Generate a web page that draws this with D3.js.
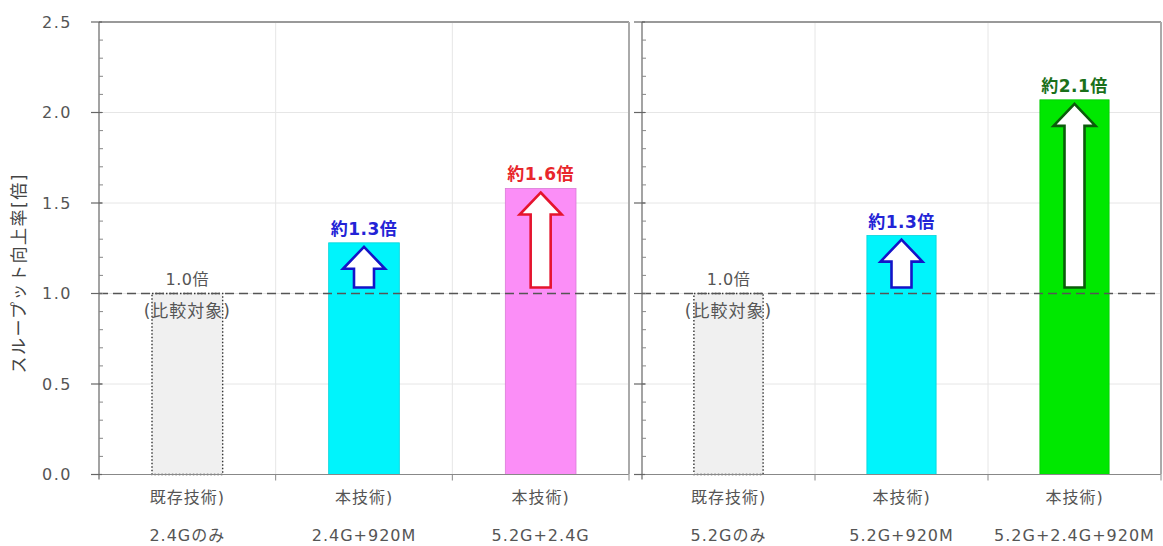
<!DOCTYPE html>
<html>
<head>
<meta charset="utf-8">
<script src="https://cdn.jsdelivr.net/npm/d3@7"></script>
<style>
  html, body { margin: 0; padding: 0; background: #fff; }
  svg { display: block; }
  text { font-family: "DejaVu Sans", "Noto Sans CJK JP", sans-serif; }
</style>
</head>
<body>
<svg id="chart" width="1163" height="546"></svg>
<script>
// Throughput gain vs. existing single-band technology
const leftTech    = ["既存技術)", "本技術)", "本技術)"];
const leftBands   = ["2.4Gのみ", "2.4G+920M", "5.2G+2.4G"];
const leftValues  = [1.0, 1.28, 1.58];

const rightTech   = ["既存技術)", "本技術)", "本技術)"];
const rightBands  = ["5.2Gのみ", "5.2G+920M", "5.2G+2.4G+920M"];
const rightValues = [1.0, 1.32, 2.07];

const yTicks      = [0, 0.5, 1.0, 1.5, 2.0, 2.5];
const yMinorTicks = d3.range(0, 25).map(i => i / 10);
const yTitle      = "スループット向上率[倍]";
const baseNote    = "(比較対象)";

const barFill     = { left: ["#f0f0f0", "#00f4fc", "#fb8ef7"], right: ["#f0f0f0", "#00f4fc", "#00e800"] };
const labelColor  = { left: ["#555", "#2323d6", "#e8262b"], right: ["#555", "#2323d6", "#1a701a"] };
const arrowColor  = { left: [null, "#1414c8", "#e5142e"], right: [null, "#1414c8", "#0b5c0b"] };

const svg = d3.select("#chart");
const plotTop = 22, plotBottom = 474.5;
const y = d3.scaleLinear().domain([0, 2.5]).range([plotBottom, plotTop]);

function panel(x0, x1, tech, bands, values, side, showLabels) {
  const g = svg.append("g");
  const x = d3.scaleBand().domain(d3.range(values.length)).range([x0, x1]).paddingInner(0).paddingOuter(0);
  const bw = x.bandwidth() * 0.4;

  // horizontal grid
  g.selectAll(".hg").data(yTicks.filter(t => t > 0 && t < 2.5)).join("line")
    .attr("x1", x0).attr("x2", x1).attr("y1", d => y(d)).attr("y2", d => y(d))
    .attr("stroke", "#e6e6e6").attr("stroke-width", 1);
  // vertical grid at band boundaries
  g.selectAll(".vg").data(d3.range(1, values.length)).join("line")
    .attr("x1", d => x(d)).attr("x2", d => x(d)).attr("y1", plotTop).attr("y2", plotBottom)
    .attr("stroke", "#e6e6e6").attr("stroke-width", 1);

  // bars
  g.selectAll(".bar").data(values).join("rect")
    .attr("x", (d, i) => x(i) + (x.bandwidth() - bw) / 2)
    .attr("width", bw)
    .attr("y", d => y(d))
    .attr("height", d => y(0) - y(d))
    .attr("fill", (d, i) => barFill[side][i])
    .attr("stroke", (d, i) => i === 0 ? "#333" : d3.color(barFill[side][i]).darker(0.4))
    .attr("stroke-width", (d, i) => i === 0 ? 1.4 : 0.8)
    .attr("stroke-dasharray", (d, i) => i === 0 ? "1.5,2" : null);

  // reference line at 1.0
  g.append("line")
    .attr("x1", x0).attr("x2", x1).attr("y1", y(1)).attr("y2", y(1))
    .attr("stroke", "#555").attr("stroke-width", 1.6).attr("stroke-dasharray", "9,5");

  // arrows showing the gain above 1.0
  const headW = 42, shaftW = 20, headH = 22;
  values.forEach((v, i) => {
    if (i === 0) return;
    const cx = x(i) + x.bandwidth() / 2;
    const tip = y(v) + 4, base = y(1) - 6;
    const p = d3.path();
    p.moveTo(cx, tip);
    p.lineTo(cx + headW / 2, tip + headH);
    p.lineTo(cx + shaftW / 2, tip + headH);
    p.lineTo(cx + shaftW / 2, base);
    p.lineTo(cx - shaftW / 2, base);
    p.lineTo(cx - shaftW / 2, tip + headH);
    p.lineTo(cx - headW / 2, tip + headH);
    p.closePath();
    g.append("path").attr("d", p.toString())
      .attr("fill", "#fff").attr("stroke", arrowColor[side][i])
      .attr("stroke-width", 2.6).attr("stroke-linejoin", "miter");
  });

  // value labels
  const fmt = d3.format(".1f");
  values.forEach((v, i) => {
    const cx = x(i) + x.bandwidth() / 2;
    if (i === 0) {
      g.append("text").attr("x", cx).attr("y", y(v) - 14).attr("dy", "0.35em")
        .attr("text-anchor", "middle").attr("fill", labelColor[side][i])
        .attr("font-size", 16).style("letter-spacing", "0.5px")
        .text(fmt(v) + "倍");
      g.append("text").attr("x", cx).attr("y", y(v) + 18).attr("dy", "0.35em")
        .attr("text-anchor", "middle").attr("fill", labelColor[side][i])
        .attr("font-size", 17).style("letter-spacing", "1px")
        .text(baseNote);
    } else {
      g.append("text").attr("x", cx).attr("y", y(v) - 14).attr("dy", "0.35em")
        .attr("text-anchor", "middle").attr("fill", labelColor[side][i])
        .attr("font-size", 17).attr("font-weight", "bold").style("letter-spacing", "0.5px")
        .text("約" + fmt(v) + "倍");
    }
  });

  // category labels (two lines)
  const cat = g.selectAll(".cat").data(values).join("g");
  cat.append("text")
    .attr("x", (d, i) => x(i) + x.bandwidth() / 2).attr("y", 497).attr("dy", "0.35em")
    .attr("text-anchor", "middle").attr("fill", "#555").attr("font-size", 16)
    .style("letter-spacing", "1px")
    .text((d, i) => tech[i]);
  cat.append("text")
    .attr("x", (d, i) => x(i) + x.bandwidth() / 2).attr("y", 535).attr("dy", "0.35em")
    .attr("text-anchor", "middle").attr("fill", "#555").attr("font-size", 16)
    .style("letter-spacing", "1px")
    .text((d, i) => bands[i]);

  // x axis with ticks at band boundaries
  g.append("line").attr("x1", x0).attr("x2", x1).attr("y1", plotBottom).attr("y2", plotBottom)
    .attr("stroke", "#888").attr("stroke-width", 1.2);
  g.selectAll(".xt").data(d3.range(1, values.length + 1)).join("line")
    .attr("x1", d => d === values.length ? x1 : x(d)).attr("x2", d => d === values.length ? x1 : x(d))
    .attr("y1", plotBottom).attr("y2", plotBottom + 6)
    .attr("stroke", "#888").attr("stroke-width", 1);

  // frame: top and right
  g.append("line").attr("x1", x0).attr("x2", x1).attr("y1", plotTop).attr("y2", plotTop)
    .attr("stroke", "#999").attr("stroke-width", 2);
  g.append("line").attr("x1", x1).attr("x2", x1).attr("y1", plotTop).attr("y2", plotBottom)
    .attr("stroke", "#aaa").attr("stroke-width", 2);

  // y axis: major ticks outside, minor ticks inside
  const ax = g.append("g");
  ax.append("line").attr("x1", x0).attr("x2", x0).attr("y1", plotTop).attr("y2", plotBottom + 5)
    .attr("stroke", "#666").attr("stroke-width", 1.2);
  ax.selectAll(".mn").data(yMinorTicks).join("line")
    .attr("x1", x0).attr("x2", x0 + 4).attr("y1", d => y(d)).attr("y2", d => y(d))
    .attr("stroke", "#888").attr("stroke-width", 1);
  ax.selectAll(".mj").data(yTicks).join("line")
    .attr("x1", x0 - 8).attr("x2", x0 + 3).attr("y1", d => y(d)).attr("y2", d => y(d))
    .attr("stroke", "#666").attr("stroke-width", 1.2);
  if (showLabels) {
    ax.selectAll(".tl").data(yTicks).join("text")
      .attr("x", 72).attr("y", d => y(d)).attr("dy", "0.35em")
      .attr("text-anchor", "end").attr("fill", "#555").attr("font-size", 16)
      .style("letter-spacing", "1.5px")
      .text(d => d3.format(".1f")(d));
  }
}

panel(99, 629, leftTech, leftBands, leftValues, "left", true);
panel(642, 1161, rightTech, rightBands, rightValues, "right", false);

// y axis title
svg.append("text")
  .attr("transform", `translate(19,${(plotTop + plotBottom) / 2 + 25}) rotate(-90)`)
  .attr("dy", "0.35em").attr("text-anchor", "middle")
  .attr("fill", "#444").attr("font-size", 17).style("letter-spacing", "1.5px")
  .text(yTitle);
</script>
</body>
</html>
